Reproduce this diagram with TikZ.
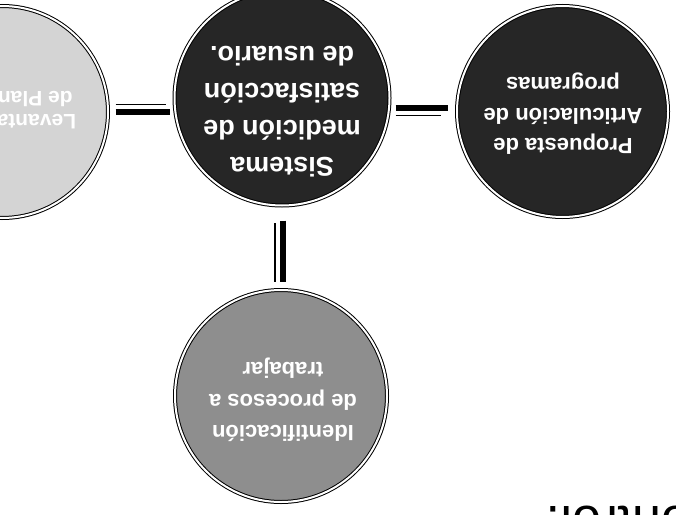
\documentclass[tikz,border=0pt]{standalone}
\usepackage{fontspec}
\setmainfont{Liberation Sans}[BoldFont={Liberation Sans Bold}]
\definecolor{darkfill}{HTML}{262626}
\definecolor{midfill}{HTML}{8E8E8E}
\definecolor{lightfill}{HTML}{D4D4D4}
\begin{document}
\begin{tikzpicture}[x=1pt,y=1pt,
  disc/.style={circle, draw=black, line width=1pt, double=white, double distance=2pt, inner sep=0pt, minimum size=#1},
  lbl/.style={rotate=180, align=center, inner sep=0pt, text=white},
  thinline/.style={line width=1.3pt},
  thickline/.style={line width=6pt}]
\useasboundingbox (0,0) rectangle (676,-514);
\clip (0,0) rectangle (676,-514);
% circles
\node[disc=212pt, fill=lightfill] (lc) at (2,-112) {};
\node[disc=215pt, fill=darkfill] (cc) at (282,-98) {};
\node[disc=211pt, fill=darkfill] (rc) at (562.5,-111.5) {};
\node[disc=212pt, fill=midfill] (bc) at (281,-396) {};
% texts
\node[lbl, font=\bfseries\fontsize{21}{23}\selectfont, text=white] (lt) at (2,-111) {Levantamiento\\de Planeación};
\node[lbl, font=\bfseries\fontsize{27}{37}\selectfont] (ct) at (282,-112) {Sistema\\medición de\\satisfacción\\de usuario.};
\node[lbl, font=\bfseries\fontsize{22}{30.5}\selectfont] (rtx) at (563,-114) {Propuesta de\\Articulación de\\programas};
\node[lbl, font=\bfseries\fontsize{22}{31.5}\selectfont] (btx) at (283,-400) {Identificación\\de procesos a\\trabajar};
\node[rotate=180, inner sep=0pt, anchor=base east, font=\fontsize{52}{56}\selectfont] (ctl) at (546,-506) {control.};
% left connector
\coordinate (lthin) at ([yshift=7.5pt]lc.east);
\draw[thickline, shorten <=7pt, shorten >=4.5pt] (lc.east) -- (cc.west |- lc.east);
\draw[thinline, shorten <=7pt, shorten >=8pt] (lthin) -- (cc.west |- lthin);
% right connector
\coordinate (rj) at ([yshift=4pt]rc.west);
\coordinate (rthin) at ([yshift=-4.2pt]rc.west);
\draw[thickline, shorten <=5.5pt, shorten >=9pt] (cc.east |- rj) -- (rj);
\draw[thinline, shorten <=5.5pt, shorten >=16pt] (cc.east |- rthin) -- (rthin);
% vertical connector
\coordinate (vj) at ([xshift=0.5pt]cc.south);
\coordinate (vthin) at ([xshift=-7pt]cc.south);
\draw[thickline, shorten <=14.5pt, shorten >=8pt] (vj) -- (vj |- bc.north);
\draw[thinline, shorten <=17pt, shorten >=8pt] (vthin) -- (vthin |- bc.north);
\end{tikzpicture}
\end{document}
